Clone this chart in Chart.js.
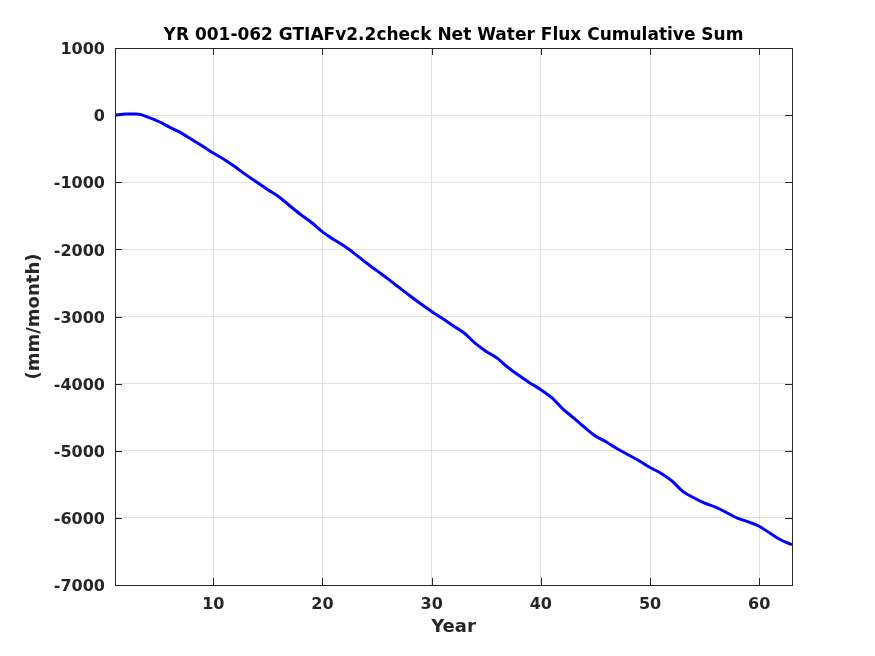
<!DOCTYPE html>
<html>
<head>
<meta charset="utf-8">
<script src="https://cdn.jsdelivr.net/npm/chart.js@4.4.1/dist/chart.umd.min.js"></script>
<style>
  html, body { margin: 0; padding: 0; background: #fff; }
  #wrap { width: 875px; height: 656px; }
</style>
</head>
<body>
<div id="wrap"><canvas id="fluxChart" width="875" height="656"></canvas></div>
<script>
// --- DATA ---
const years = [
   1,  2,  3,  4,  5,  6,  7,  8,  9, 10,
  11, 12, 13, 14, 15, 16, 17, 18, 19, 20,
  21, 22, 23, 24, 25, 26, 27, 28, 29, 30,
  31, 32, 33, 34, 35, 36, 37, 38, 39, 40,
  41, 42, 43, 44, 45, 46, 47, 48, 49, 50,
  51, 52, 53, 54, 55, 56, 57, 58, 59, 60,
  61, 62, 63
];
const cumSum = [
     0,    15,    15,   -30,   -95,  -180,  -260,  -360,  -460,  -565,
  -660,  -770,  -890, -1000, -1110, -1215, -1350, -1480, -1600, -1740,
 -1850, -1950, -2070, -2200, -2320, -2440, -2565, -2690, -2810, -2925,
 -3030, -3140, -3250, -3400, -3520, -3620, -3760, -3880, -3990, -4090,
 -4210, -4375, -4510, -4650, -4780, -4870, -4970, -5060, -5150, -5250,
 -5335, -5450, -5605, -5700, -5780, -5840, -5920, -6005, -6060, -6125,
 -6230, -6330, -6400
];
const xTicks = [10, 20, 30, 40, 50, 60];
const yTicks = [-7000, -6000, -5000, -4000, -3000, -2000, -1000, 0, 1000];
const chartTitle = 'YR 001-062 GTIAFv2.2check Net Water Flux Cumulative Sum';

const FONT = 'DejaVu Sans';
const AXIS = '#262626';
const GRID = '#dfdfdf';

// MATLAB style box, inward tick marks and title centred over the axes
const boxPlugin = {
  id: 'matlabBox',
  afterDraw(chart) {
    const { ctx, chartArea: a, scales: { x, y } } = chart;
    ctx.save();
    ctx.strokeStyle = AXIS;
    ctx.lineWidth = 1;
    ctx.strokeRect(a.left + 0.5, a.top + 0.5, a.right - a.left, a.bottom - a.top);
    ctx.beginPath();
    xTicks.forEach(v => {
      const px = Math.round(x.getPixelForValue(v)) + 0.5;
      ctx.moveTo(px, a.bottom); ctx.lineTo(px, a.bottom - 7);
      ctx.moveTo(px, a.top);    ctx.lineTo(px, a.top + 7);
    });
    yTicks.forEach(v => {
      const py = Math.round(y.getPixelForValue(v)) + 0.5;
      ctx.moveTo(a.left, py);  ctx.lineTo(a.left + 7, py);
      ctx.moveTo(a.right, py); ctx.lineTo(a.right - 7, py);
    });
    ctx.stroke();

    ctx.fillStyle = '#000';
    ctx.font = `bold 17px "${FONT}"`;
    ctx.textAlign = 'center';
    ctx.textBaseline = 'middle';
    ctx.fillText(chartTitle, (a.left + a.right) / 2, 36);
    ctx.restore();
  }
};

new Chart(document.getElementById('fluxChart'), {
  type: 'line',
  data: {
    datasets: [{
      data: years.map((yr, i) => ({ x: yr, y: cumSum[i] })),
      borderColor: '#0000ff',
      borderWidth: 3,
      pointRadius: 0,
      cubicInterpolationMode: 'monotone',
      fill: false
    }]
  },
  options: {
    responsive: false,
    animation: false,
    layout: { padding: { left: 0, right: 83, top: 48, bottom: 0 } },
    plugins: {
      legend: { display: false },
      tooltip: { enabled: false },
      title: { display: false }
    },
    scales: {
      x: {
        type: 'linear',
        min: 1,
        max: 63,
        afterBuildTicks: s => { s.ticks = xTicks.map(v => ({ value: v })); },
        afterFit: s => { s.height = 71; },
        grid: { color: GRID, drawTicks: false },
        border: { display: false },
        ticks: {
          color: AXIS,
          padding: 10,
          maxRotation: 0,
          font: { family: FONT, size: 16, weight: 'bold' }
        },
        title: {
          display: true,
          text: 'Year',
          color: AXIS,
          font: { family: FONT, size: 18, weight: 'bold', lineHeight: 1.2 },
          padding: { top: 0, bottom: 18 }
        }
      },
      y: {
        type: 'linear',
        min: -7000,
        max: 1000,
        afterBuildTicks: s => { s.ticks = yTicks.map(v => ({ value: v })); },
        afterFit: s => { s.width = 115; },
        grid: { color: GRID, drawTicks: false },
        border: { display: false },
        ticks: {
          color: AXIS,
          padding: 10,
          labelOffset: 2,
          font: { family: FONT, size: 16, weight: 'bold' },
          callback: v => String(v)
        },
        title: {
          display: true,
          text: '(mm/month)',
          color: AXIS,
          font: { family: FONT, size: 18, weight: 'bold', lineHeight: 1.2 },
          padding: { top: 24, bottom: 0 }
        }
      }
    }
  },
  plugins: [boxPlugin]
});
</script>
</body>
</html>
